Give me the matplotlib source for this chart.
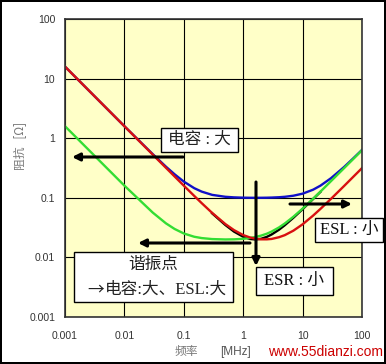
import matplotlib
matplotlib.use("Agg")
import matplotlib.pyplot as plt
from matplotlib.patches import Rectangle

# ---- data ----
freq = [0.001, 0.01, 0.03, 0.05, 0.07, 0.1, 0.15, 0.2, 0.3, 0.5, 0.7, 1, 1.3, 1.6,
        2, 2.5, 3, 4, 5, 7, 10, 15, 20, 30, 50, 70, 100]
red = [15.9, 1.59, 0.531, 0.319, 0.228, 0.160, 0.1075, 0.0814, 0.0558, 0.0363, 0.0287,
       0.0237, 0.0216, 0.0206, 0.0201, 0.0201, 0.0204, 0.0218, 0.0236, 0.0281, 0.0359,
       0.0502, 0.0652, 0.0958, 0.158, 0.221, 0.315]
green = [1.59, 0.160, 0.0565, 0.0373, 0.0300, 0.0252, 0.0222, 0.0211, 0.0203, 0.0200,
         0.0201, 0.0205, 0.0212, 0.0220, 0.0232, 0.0250, 0.0271, 0.0318, 0.0370, 0.0481,
         0.0658, 0.0962, 0.127, 0.190, 0.315, 0.440, 0.629]
blue = [15.9, 1.59, 0.540, 0.333, 0.248, 0.187, 0.145, 0.127, 0.112, 0.104, 0.1017,
        0.1005, 0.1001, 0.100, 0.1001, 0.1004, 0.1009, 0.1022, 0.1039, 0.1084, 0.1173,
        0.1367, 0.160, 0.213, 0.329, 0.451, 0.636]
black_freq = [0.3, 0.5, 0.7, 1, 1.3, 1.6, 2, 2.5, 3, 4, 5, 7, 10, 15, 20]
black = [0.0549, 0.0350, 0.0271, 0.0222, 0.0204, 0.0200, 0.0205, 0.0221, 0.0242,
         0.0291, 0.0346, 0.0463, 0.0644, 0.0953, 0.126]

xticks = [0.001, 0.01, 0.1, 1, 10, 100]
xticklabels = ["0.001", "0.01", "0.1", "1", "10", "100"]
yticks = [0.001, 0.01, 0.1, 1, 10, 100]
yticklabels = ["0.001", "0.01", "0.1", "1", "10", "100"]

W, H = 386, 364
fig = plt.figure(figsize=(W / 100, H / 100), dpi=100)
fig.patch.set_facecolor("white")
fig.patch.set_edgecolor("black")
fig.patch.set_linewidth(1.5)


def P(x, y):
    return (x / W, 1 - y / H)


L, T, R, B = 65, 19, 362, 317
ax = fig.add_axes([L / W, 1 - B / H, (R - L) / W, (B - T) / H])
ax.set_facecolor("#FFFFC8")
ax.set_xscale("log")
ax.set_yscale("log")
ax.set_xlim(0.001, 100)
ax.set_ylim(0.001, 100)
ax.set_xticks(xticks)
ax.set_xticklabels(xticklabels)
ax.set_yticks(yticks)
ax.set_yticklabels(yticklabels)
ax.minorticks_off()
ax.tick_params(length=0, labelsize=7.5, labelcolor="#333333", pad=7)
ax.tick_params(axis="x", pad=10)
for lab in ax.get_xticklabels() + ax.get_yticklabels():
    lab.set_family("Liberation Sans")
ax.grid(True, color="black", lw=0.8)
ax.set_axisbelow(True)
for s in ax.spines.values():
    s.set_color("#333333")
    s.set_linewidth(1.2)

lw = 1.7
ax.plot(freq, blue, color="#1010C8", lw=lw, zorder=2, solid_joinstyle="round")
ax.plot(black_freq, black, color="black", lw=lw, zorder=2.1, solid_joinstyle="round")
ax.plot(freq, green, color="#33DD33", lw=lw, zorder=2.2, solid_joinstyle="round")
ax.plot(freq, red, color="#D81010", lw=lw, zorder=2.3, solid_joinstyle="round")

# arrows
arrows = [((183, 157), (72, 157)), ((250, 243), (138, 243)),
          ((256, 182), (256, 266)), ((290, 204), (352, 204))]
for start, end in arrows:
    ax.annotate("", xy=P(*end), xytext=P(*start), xycoords="figure fraction",
                textcoords="figure fraction", annotation_clip=False,
                arrowprops=dict(arrowstyle="-|>", lw=2.2, color="black",
                                mutation_scale=11, shrinkA=0, shrinkB=0),
                zorder=4)

fam = ["Liberation Serif", "Noto Sans CJK SC"]


def box(x0, y0, x1, y1):
    r = Rectangle(P(x0, y1), (x1 - x0) / W, (y1 - y0) / H, transform=fig.transFigure,
                  facecolor="white", edgecolor="black", lw=1.0, zorder=5)
    fig.add_artist(r)


box(161, 128, 238, 152)
fig.text(*P(199.5, 140), "电容 : 大", ha="center", va="center", fontsize=12,
         family=fam, color="#222222", zorder=6)
box(74, 252, 233, 302)
fig.text(*P(153, 265), "谐振点", ha="center", va="center", fontsize=12,
         family=fam, color="#222222", zorder=6)
fig.text(*P(87, 290), "→", ha="left", va="center", fontsize=12,
         family=["Noto Sans CJK SC"], color="#222222", zorder=6)
fig.text(*P(105, 290), "电容:大、ESL:大", ha="left", va="center", fontsize=12,
         family=fam, color="#222222", zorder=6)
box(256, 267, 333, 295)
fig.text(*P(294.5, 281), "ESR : 小", ha="center", va="center", fontsize=12,
         family=fam, color="#111111", zorder=6)
box(315, 218, 383, 242)
fig.text(*P(349, 230), "ESL : 小", ha="center", va="center", fontsize=12,
         family=fam, color="#111111", zorder=6)

# axis labels
cjk = ["Noto Sans CJK SC", "DejaVu Sans"]
fig.text(*P(20, 145.5), "阻抗   [Ω]", rotation=90, ha="center", va="center",
         fontsize=8.5, family=cjk, color="#777777")
fig.text(*P(186, 352), "频率", ha="center", va="center", fontsize=8.5,
         family=cjk, color="#777777")
fig.text(*P(235, 352), "[MHz]", ha="center", va="center", fontsize=8.5,
         family="Liberation Sans", color="#555555")
fig.text(*P(326, 352), "www.55dianzi.com", ha="center", va="center", fontsize=10,
         family="Liberation Sans", color="#CC0000")

fig.savefig("out.png", dpi=100, facecolor=fig.get_facecolor(), edgecolor=fig.get_edgecolor())
